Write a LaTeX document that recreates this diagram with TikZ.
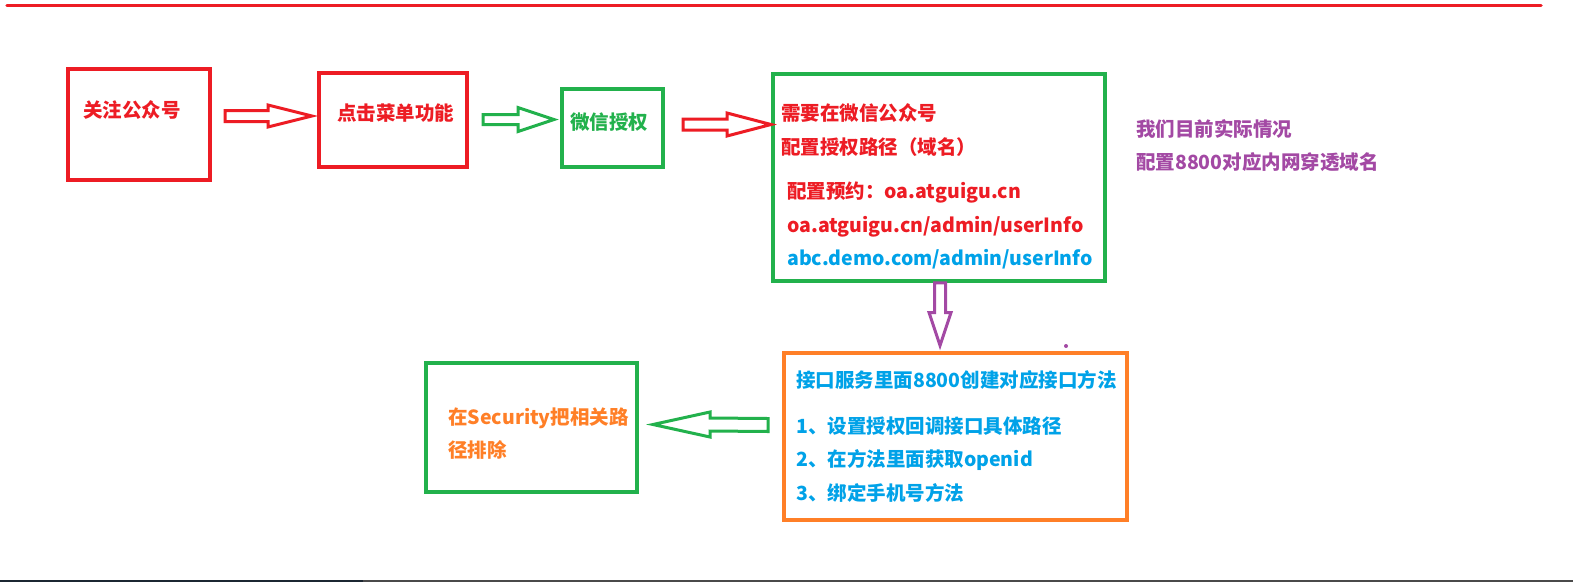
\documentclass[tikz,border=0pt]{standalone}
\usepackage{fontspec}
\setmainfont{Noto Sans CJK SC}
\usetikzlibrary{calc}
\definecolor{pred}{HTML}{ED1C24}
\definecolor{pgreen}{HTML}{22B14C}
\definecolor{porange}{HTML}{FF7F27}
\definecolor{ppurple}{HTML}{A349A4}
\definecolor{pblue}{HTML}{00A2E8}
\definecolor{pdark}{HTML}{1B2631}
\definecolor{pgray}{HTML}{4A4A4A}
% horizontal/vertical block arrows: #1 style, #2 tail, #3 tip, #4 head length, #5 shaft half, #6 head half
\newcommand\hblk[6]{\draw[#1] ($(#2)+(0,-#5)$) -- ($(#3)+(-#4,-#5)$) -- ($(#3)+(-#4,-#6)$) -- (#3) -- ($(#3)+(-#4,#6)$) -- ($(#3)+(-#4,#5)$) -- ($(#2)+(0,#5)$) -- cycle;}
\newcommand\vblk[6]{\draw[#1] ($(#2)+(-#5,0)$) -- ($(#3)+(-#5,-#4)$) -- ($(#3)+(-#6,-#4)$) -- (#3) -- ($(#3)+(#6,-#4)$) -- ($(#3)+(#5,-#4)$) -- ($(#2)+(#5,0)$) -- cycle;}
\begin{document}
\begin{tikzpicture}[x=1pt,y=-1pt,
  box/.style={draw=#1, line width=3.5pt, rectangle, inner sep=0pt},
  txt/.style={text=#1, anchor=base west, inner sep=0pt, font=\fontsize{19.5}{24}\selectfont\bfseries},
  blk/.style={draw=#1, line width=3pt, line join=miter, fill=white}]
\useasboundingbox (0,0) rectangle (1573,582);
\fill[white] (0,0) rectangle (1573,582);
% top and bottom rules
\coordinate (tl) at (7,5.5);
\coordinate (tr) at (1541,5.5);
\draw[pred, line width=3.5pt, line cap=round] (tl) -- (tr);
\coordinate (bl) at (0,581);
\coordinate (bm) at (363,581);
\coordinate (br) at (1573,581);
\draw[pdark, line width=2.5pt] (bl) -- (bm);
\draw[pgray, line width=2.5pt] (bm) -- (br);
% boxes
\node[box=pred, minimum width=142, minimum height=111] (b1) at (139,124.5) {};
\node[box=pred, minimum width=148, minimum height=94] (b2) at (393,120) {};
\node[box=pgreen, minimum width=101, minimum height=78] (b3) at (612.5,128) {};
\node[box=pgreen, minimum width=332, minimum height=207] (b4) at (939,177.5) {};
\node[box=porange, minimum width=343, minimum height=167] (b5) at (955.5,436.5) {};
\node[box=pgreen, minimum width=211, minimum height=129] (b6) at (531.5,427.5) {};
% texts
\node[txt=pred] (t1) at (83,117) {关注公众号};
\node[txt=pred] (t2) at (337,120) {点击菜单功能};
\node[txt=pgreen] (t3) at (570,129) {微信授权};
\node[txt=pred] (t4a) at (781,120) {需要在微信公众号};
\node[txt=pred] (t4b) at (781,154) {配置授权路径（域名）};
\node[txt=pred] (t4c) at (787,198) {配置预约：oa.atguigu.cn};
\node[txt=pred] (t4d) at (787,232) {oa.atguigu.cn/admin/userInfo};
\node[txt=pblue] (t4e) at (787,265) {abc.demo.com/admin/userInfo};
\node[txt=ppurple] (p1) at (1136,136) {我们目前实际情况};
\node[txt=ppurple] (p2) at (1136,169) {配置8800对应内网穿透域名};
\node[txt=pblue] (t5a) at (796,387) {接口服务里面8800创建对应接口方法};
\node[txt=pblue] (t5b) at (796,433) {1、设置授权回调接口具体路径};
\node[txt=pblue] (t5c) at (796,466) {2、在方法里面获取openid};
\node[txt=pblue] (t5d) at (796,500) {3、绑定手机号方法};
\node[txt=porange] (t6a) at (448,424) {在Security把相关路};
\node[txt=porange] (t6b) at (448,457) {径排除};
% arrows
\coordinate (a1s) at (225,116);
\coordinate (a1t) at (312,116);
\hblk{blk=pred}{a1s}{a1t}{44}{5.5}{11}
\coordinate (a2s) at (483,119.5);
\coordinate (a2t) at (554,119.5);
\hblk{blk=pgreen}{a2s}{a2t}{36}{5}{12}
\coordinate (a3s) at (683,124.5);
\coordinate (a3t) at (771,124.5);
\hblk{blk=pred}{a3s}{a3t}{44}{5.5}{11.5}
\coordinate (a4s) at ($(b4.south)+(1,0)$);
\coordinate (a4t) at (940,345.5);
\vblk{blk=ppurple}{a4s}{a4t}{33}{5.5}{11}
\coordinate (a5s) at (768,425);
\coordinate (a5t) at (653,424.5);
\hblk{blk=pgreen}{a5s}{a5t}{-57}{6.5}{12.5}
% stray dot
\fill[ppurple] (1066,346) circle (2);
\end{tikzpicture}
\end{document}
